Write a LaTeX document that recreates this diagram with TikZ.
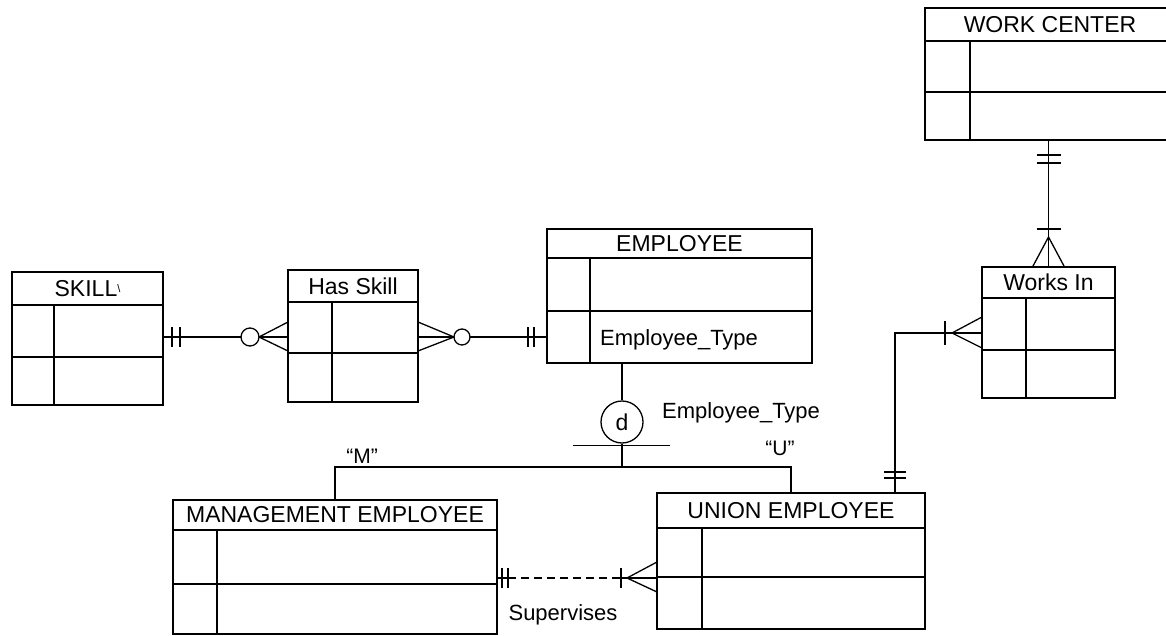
\documentclass[tikz,border=0pt]{standalone}
\usepackage{fontspec}
\setmainfont{Liberation Sans}
\usetikzlibrary{calc}
\tikzset{
  entbox/.style={draw, line width=1.6pt, inner sep=0pt, outer sep=0pt},
  entline/.style={line width=1.6pt},
  enttitle/.style={font=\fontsize{23}{25}\selectfont, inner sep=0pt},
  lbl/.style={font=\fontsize{22}{24}\selectfont, inner sep=0pt},
  qlbl/.style={font=\fontsize{21}{23}\selectfont, inner sep=0pt},
  conn/.style={line width=1.3pt},
  dashconn/.style={line width=1.3pt, dash pattern=on 8pt off 5pt},
  dcircle/.style={circle, draw, line width=1.3pt, minimum size=42pt, inner sep=0pt, fill=white, font=\fontsize{23}{25}\selectfont},
}
% #1 name, #2 x1, #3 y1, #4 x2, #5 y2, #6 header y, #7 middle y, #8 inner x, #9 title
\newcommand\erent[9]{%
  \pgfmathsetmacro\erw{#4-#2}%
  \pgfmathsetmacro\erh{#5-#3}%
  \node[entbox, minimum width=\erw pt, minimum height=\erh pt, anchor=north west] (#1) at (#2,#3) {};
  \draw[entline] (#2,#6) -- (#4,#6);
  \draw[entline] (#2,#7) -- (#4,#7);
  \draw[entline] (#8,#6) -- (#8,#5);
  \node[enttitle] (#1-t) at ({(#2+#4)/2},{(#3+#6)/2}) {#9};
}
\begin{document}
\begin{tikzpicture}[x=1pt,y=-1pt]
\useasboundingbox (0,0) rectangle (1166,636);

% entities
\erent{skill}{12}{272}{163}{405}{305}{357}{54}{SKILL\raisebox{4pt}{\fontsize{11}{11}\selectfont\textbackslash}}
\erent{hasskill}{288}{270}{418}{402}{302}{353}{332}{Has Skill}
\erent{emp}{547}{229}{812}{363}{258}{311}{590}{EMPLOYEE}
\erent{workc}{925}{8}{1175}{140}{41}{92}{970}{WORK CENTER}
\erent{worksin}{982}{267}{1115}{398}{298}{350}{1026}{Works In}
\erent{mgmt}{173}{500}{497}{634}{530}{584}{217}{MANAGEMENT EMPLOYEE}
\erent{union}{657}{493}{925}{629}{528}{577}{702}{UNION EMPLOYEE}

\node[lbl, anchor=base west] (etattr) at (600,345) {Employee\_Type};

% SKILL -- Has Skill
\coordinate (s1) at (skill.east |- 0,337);
\coordinate (s2) at (hasskill.west |- 0,337);
\draw[conn] (s1) -- (s2);
\draw[conn] ([xshift=9pt]s1) ++(0,-10) -- ++(0,20);
\draw[conn] ([xshift=17pt]s1) ++(0,-10) -- ++(0,20);
\draw[conn] ([yshift=15pt]s2) -- ([xshift=-29pt]s2) -- ([yshift=-14pt]s2);
\draw[conn, fill=white] ([xshift=-38pt]s2) circle[radius=9pt];

% Has Skill -- EMPLOYEE
\coordinate (h1) at (hasskill.east |- 0,337);
\coordinate (h2) at (emp.west |- 0,337);
\draw[conn] (h1) -- (h2);
\draw[conn] ([yshift=15pt]h1) -- ([xshift=36pt]h1) -- ([yshift=-14pt]h1);
\draw[conn, fill=white] ([xshift=44pt]h1) circle[radius=8pt];
\draw[conn] ([xshift=-19pt]h2) ++(0,-10) -- ++(0,20);
\draw[conn] ([xshift=-13pt]h2) ++(0,-10) -- ++(0,20);

% subtype discriminator
\node[dcircle] (dsub) at (622,422) {d};
\draw[conn] (dsub.north |- emp.south) -- (dsub.north);
\draw[conn] ([yshift=-2pt]dsub.south) ++(-49,0) -- ++(97,0);
\coordinate (jn) at (dsub.south |- 0,467);
\draw[conn] (dsub.south) -- (jn);
\draw[conn] (mgmt.north) -- (mgmt.north |- jn) -- (union.north |- jn) -- (union.north);
\node[lbl, anchor=base west] (ettype) at (662,418) {Employee\_Type};
\node[qlbl, anchor=base] (mlbl) at (362,463) {“M”};
\node[qlbl, anchor=base] (ulbl) at (780,455) {“U”};

% WORK CENTER -- Works In
\coordinate (w1) at (worksin.north |- workc.south);
\draw[conn] (w1) -- (worksin.north);
\draw[conn] ([yshift=-15pt]w1) ++(-12,0) -- ++(24,0);
\draw[conn] ([yshift=-23pt]w1) ++(-12,0) -- ++(24,0);
\draw[conn] ([yshift=38pt]worksin.north) ++(-12,0) -- ++(24,0);
\draw[conn] ([xshift=-16pt]worksin.north) -- ([yshift=30pt]worksin.north) -- ([xshift=16pt]worksin.north);

% Works In -- UNION EMPLOYEE
\coordinate (bend) at (895,333);
\coordinate (w2) at (worksin.west |- bend);
\coordinate (u1) at (bend |- union.north);
\draw[conn] (w2) -- (bend) -- (u1);
\draw[conn] ([yshift=16pt]w2) -- ([xshift=-30pt]w2) -- ([yshift=-15pt]w2);
\draw[conn] ([xshift=-37pt]w2) ++(0,-12) -- ++(0,24);
\draw[conn] ([yshift=21pt]u1) ++(-11,0) -- ++(22,0);
\draw[conn] ([yshift=15pt]u1) ++(-11,0) -- ++(22,0);

% Supervises
\coordinate (m1) at (mgmt.east |- 0,578);
\coordinate (m2) at (union.west |- 0,578);
\draw[conn] (m1) -- ([xshift=11pt]m1);
\draw[dashconn] ([xshift=11pt]m1) -- ([xshift=-36pt]m2);
\draw[conn] ([xshift=-36pt]m2) -- (m2);
\draw[conn] ([xshift=5pt]m1) ++(0,-10) -- ++(0,20);
\draw[conn] ([xshift=11pt]m1) ++(0,-10) -- ++(0,20);
\draw[conn] ([xshift=-36pt]m2) ++(0,-10) -- ++(0,20);
\draw[conn] ([yshift=16pt]m2) -- ([xshift=-30pt]m2) -- ([yshift=-14pt]m2);
\node[lbl, anchor=base] (suplbl) at (563,620) {Supervises};
\end{tikzpicture}
\end{document}
